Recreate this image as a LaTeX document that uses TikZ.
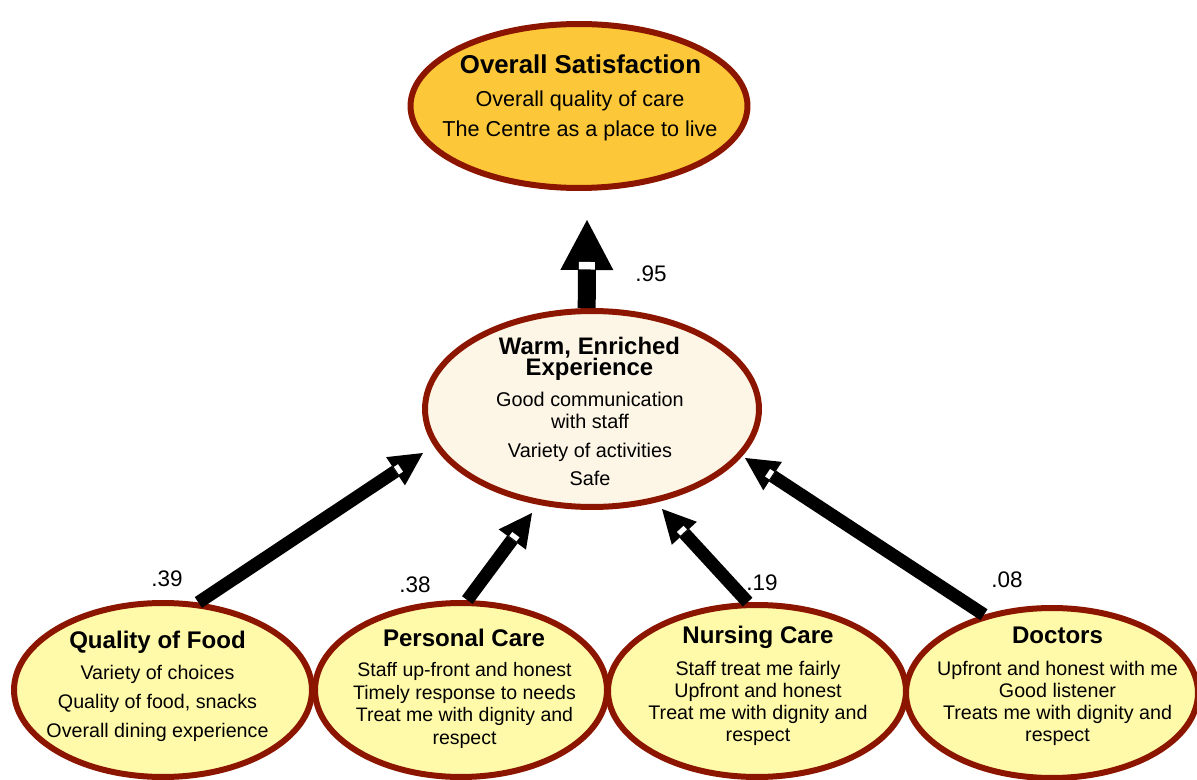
\documentclass[tikz,border=0pt]{standalone}
\usepackage{fontspec}
\setmainfont{Liberation Sans}
\usetikzlibrary{shapes.geometric,arrows.meta,calc}
\definecolor{rim}{RGB}{140,21,0}
\definecolor{goldfill}{RGB}{252,200,58}
\definecolor{creamfill}{RGB}{253,245,230}
\definecolor{paleyellow}{RGB}{255,250,170}
% allow lines closer than their glyph extents
\newcommand\tightlines{\lineskiplimit=-20pt\relax}

\begin{document}
\begin{tikzpicture}[x=0.02cm,y=-0.02cm,
  blob/.style={ellipse, draw=rim, line width=0.12cm, inner sep=0pt},
  ttl/.style={font=\bfseries\fontsize{13.7}{15}\selectfont, anchor=base, inner sep=0pt},
  body/.style={align=center, anchor=north, inner sep=0pt},
  wt/.style={font=\fontsize{12.8}{14}\selectfont, anchor=base, inner sep=0pt},
  link/.style={line width=0.26cm, -{Triangle[length=0.66cm,width=0.68cm,line width=0pt]}},
  biglink/.style={line width=0.36cm, -{Triangle[length=1.0cm,width=1.06cm,line width=0pt]}},
  notch/.style={white, line width=0.18cm},
]
\useasboundingbox (0,0) rectangle (1197,780);

% ellipses
\node[blob, fill=goldfill,   minimum width=6.74cm, minimum height=3.28cm] (top)  at (579,106) {};
\node[blob, fill=creamfill,  minimum width=6.68cm, minimum height=3.92cm] (warm) at (592,409) {};
\node[blob, fill=paleyellow, minimum width=5.96cm, minimum height=3.48cm] (food) at (163,690) {};
\node[blob, fill=paleyellow, minimum width=5.84cm, minimum height=3.48cm] (pc)   at (461,690) {};
\node[blob, fill=paleyellow, minimum width=5.96cm, minimum height=3.44cm] (nc)   at (757,691) {};
\node[blob, fill=paleyellow, minimum width=5.84cm, minimum height=3.40cm] (doc)  at (1052,693) {};

% overall satisfaction
\node[ttl, font=\bfseries\fontsize{14.7}{17}\selectfont] (topTitle) at (580.5,73.3) {Overall Satisfaction};
\node[body, font=\fontsize{12.3}{17.1}\selectfont] (topBody) at (580,90.7)
  {Overall quality of care\\The Centre as a place to live};

% warm, enriched experience (tightly set two-line title)
\node[body, font=\bfseries\fontsize{13.6}{12}\selectfont\tightlines] (warmTitle) at (589.5,336.5)
  {Warm, Enriched\\Experience};
\node[body, font=\fontsize{11.3}{12.7}\selectfont] (warmBody) at (590,391.3)
  {Good communication\\with staff\\[3.7pt]Variety of activities\\[3.7pt]Safe};

% quality of food
\node[ttl] (foodTitle) at (157.5,648) {Quality of Food};
\node[body, font=\fontsize{11.2}{16.7}\selectfont] (foodBody) at (157.5,664.6)
  {Variety of choices\\Quality of food, snacks\\Overall dining experience};

% personal care
\node[ttl] (pcTitle) at (464,646.7) {Personal Care};
\node[body, font=\fontsize{11.1}{12.9}\selectfont] (pcBody) at (464.5,662)
  {Staff up-front and honest\\Timely response to needs\\Treat me with dignity and\\respect};

% nursing care
\node[ttl] (ncTitle) at (758,643.3) {Nursing Care};
\node[body, font=\fontsize{11.2}{12.6}\selectfont] (ncBody) at (758,660.4)
  {Staff treat me fairly\\Upfront and honest\\Treat me with dignity and\\respect};

% doctors
\node[ttl] (docTitle) at (1057.5,643.3) {Doctors};
\node[body, font=\fontsize{11.2}{12.6}\selectfont] (docBody) at (1057.5,660.6)
  {Upfront and honest with me\\Good listener\\Treats me with dignity and\\respect};

% path weights
\node[wt] (w95) at (651,282) {.95};
\node[wt] (w39) at (167,586) {.39};
\node[wt] (w38) at (415,592) {.38};
\node[wt] (w19) at (762,590) {.19};
\node[wt] (w08) at (1007,587) {.08};

% arrow tips, just clear of the target ellipses
\coordinate (tipTop)  at (587,220);
\coordinate (tipFood) at (423,453);
\coordinate (tipPC)   at (532,513);
\coordinate (tipNC)   at (662,509);
\coordinate (tipDoc)  at (745,458);

% connectors
\draw[biglink] (warm.93) -- (tipTop);
\draw[notch, line width=0.32cm] ($(tipTop)!0.84cm!(warm.93)$) -- ($(tipTop)!0.99cm!(warm.93)$);

\draw[link] (food.68) -- (tipFood);
\draw[notch] ($(tipFood)!0.54cm!(food.68)$) -- ($(tipFood)!0.64cm!(food.68)$);

\draw[link] (pc.86) -- (tipPC);
\draw[notch] ($(tipPC)!0.54cm!(pc.86)$) -- ($(tipPC)!0.64cm!(pc.86)$);

\draw[link] (nc.96) -- (tipNC);
\draw[notch] ($(tipNC)!0.54cm!(nc.96)$) -- ($(tipNC)!0.64cm!(nc.96)$);

\draw[link] (doc.131) -- (tipDoc);
\draw[notch] ($(tipDoc)!0.54cm!(doc.131)$) -- ($(tipDoc)!0.64cm!(doc.131)$);
\end{tikzpicture}
\end{document}
